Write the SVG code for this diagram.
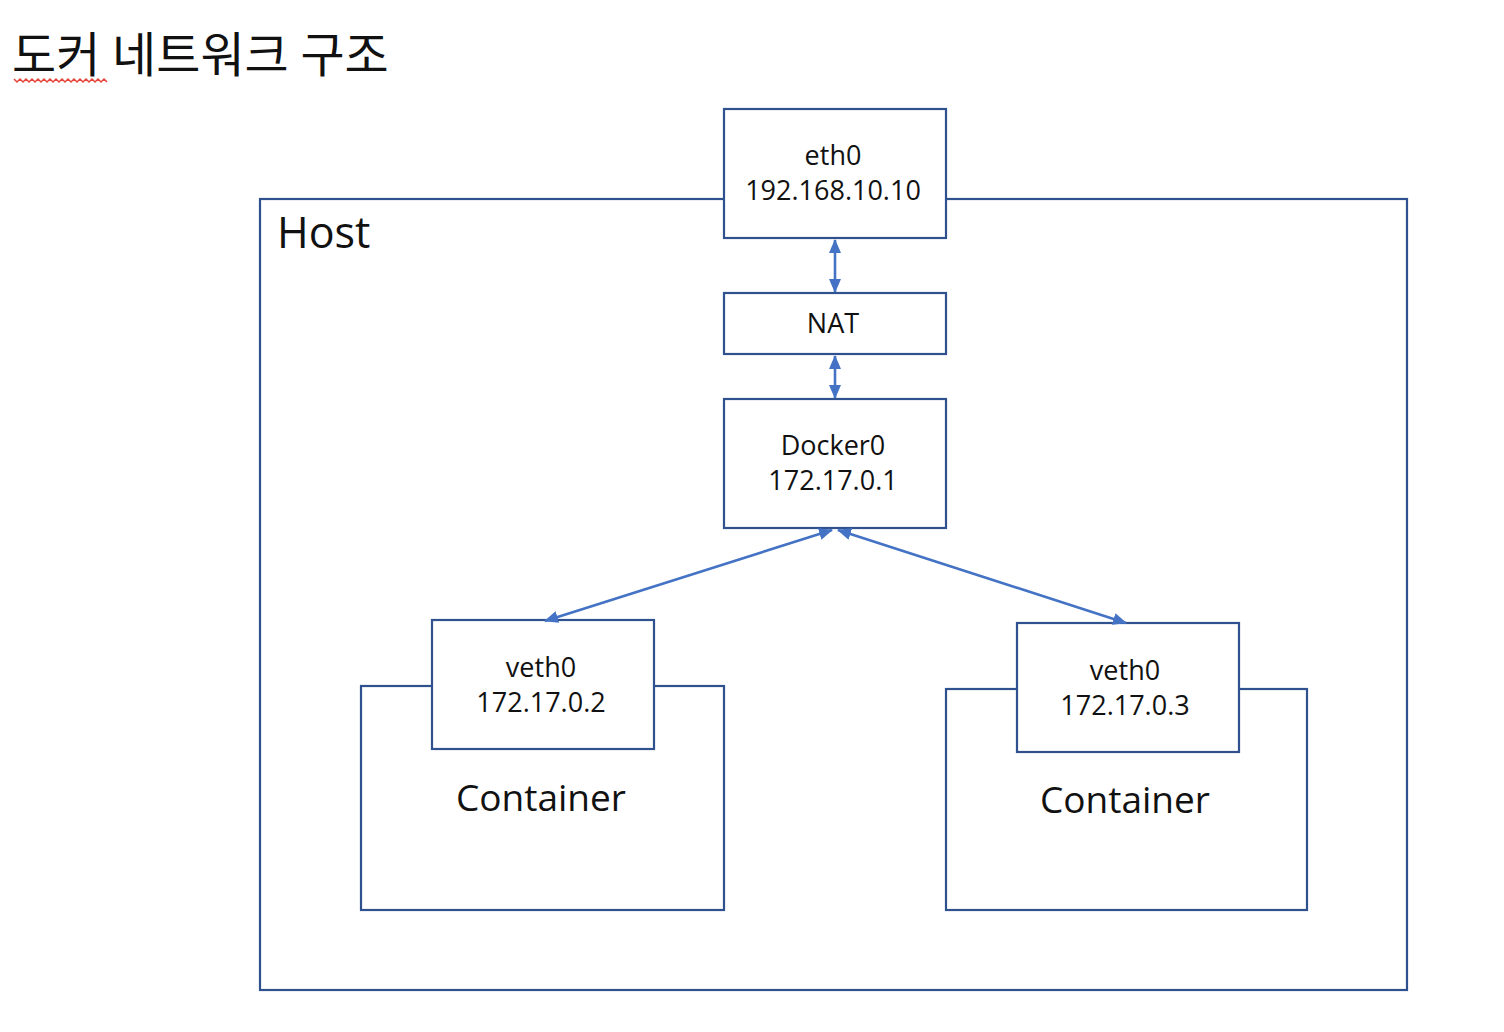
<svg xmlns="http://www.w3.org/2000/svg" width="1504" height="1032" viewBox="0 0 1504 1032">
<style>
.box{fill:#ffffff;stroke:#2F528F;stroke-width:2.2}
.frame{fill:none;stroke:#2F528F;stroke-width:2.2}
.lbl{font-family:"Open Sans","Noto Sans","Liberation Sans",sans-serif;font-size:27px;fill:#111111;text-anchor:middle}
.big{font-family:"Open Sans","Noto Sans","Liberation Sans",sans-serif;font-size:37px;fill:#111111;text-anchor:middle}
.conn{stroke:#4472C4;stroke-width:2.6;fill:none;marker-start:url(#ah);marker-end:url(#ah)}
</style>
<defs>
<marker id="ah" viewBox="0 0 14 12" refX="13" refY="6" markerWidth="14" markerHeight="12" markerUnits="userSpaceOnUse" orient="auto-start-reverse">
<path d="M0,0 L14,6 L0,12 Z" fill="#4472C4"/>
</marker>
</defs>
<rect width="1504" height="1032" fill="#ffffff"/>
<g id="title">
<text x="12" y="72" font-family="'Noto Sans CJK KR','Noto Sans',sans-serif" font-size="48" word-spacing="1" fill="#111111">도커 네트워크 구조</text>
<path d="M14,79 l3,3 l3,-3 l3,3 l3,-3 l3,3 l3,-3 l3,3 l3,-3 l3,3 l3,-3 l3,3 l3,-3 l3,3 l3,-3 l3,3 l3,-3 l3,3 l3,-3 l3,3 l3,-3 l3,3 l3,-3 l3,3 l3,-3 l3,3 l3,-3 l3,3 l3,-3 l3,3 l3,-3 l3,3" fill="none" stroke="#E5443A" stroke-width="1.5"/>
</g>
<g id="host">
<rect class="frame" x="260" y="199" width="1147" height="791"/>
<text x="277" y="248" font-family="'Open Sans','Noto Sans',sans-serif" font-size="43" fill="#111111">Host</text>
</g>
<g id="container1">
<rect class="frame" x="361" y="686" width="363" height="224"/>
<text class="big" x="541" y="811">Container</text>
</g>
<g id="container2">
<rect class="frame" x="946" y="689" width="361" height="221"/>
<text class="big" x="1125" y="813">Container</text>
</g>
<g id="eth0">
<rect class="box" x="724" y="109" width="222" height="129"/>
<text class="lbl" x="833" y="165">eth0</text>
<text class="lbl" x="833" y="200">192.168.10.10</text>
</g>
<g id="nat">
<rect class="box" x="724" y="293" width="222" height="61"/>
<text class="lbl" x="833" y="333">NAT</text>
</g>
<g id="docker0">
<rect class="box" x="724" y="399" width="222" height="129"/>
<text class="lbl" x="833" y="455">Docker0</text>
<text class="lbl" x="833" y="490">172.17.0.1</text>
</g>
<g id="veth0-left">
<rect class="box" x="432" y="620" width="222" height="129"/>
<text class="lbl" x="541" y="677">veth0</text>
<text class="lbl" x="541" y="712">172.17.0.2</text>
</g>
<g id="veth0-right">
<rect class="box" x="1017" y="623" width="222" height="129"/>
<text class="lbl" x="1125" y="680">veth0</text>
<text class="lbl" x="1125" y="715">172.17.0.3</text>
</g>
<g id="connectors">
<line class="conn" x1="835" y1="240" x2="835" y2="292"/>
<line class="conn" x1="835" y1="356" x2="835" y2="398"/>
<line class="conn" x1="832" y1="530" x2="545" y2="621"/>
<line class="conn" x1="838" y1="530" x2="1126" y2="623"/>
</g>
</svg>
